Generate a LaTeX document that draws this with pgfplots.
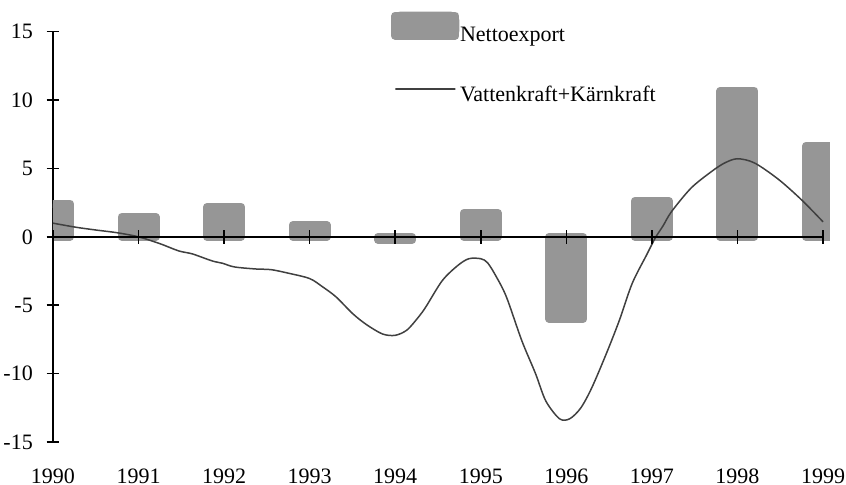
\documentclass[border=0pt]{standalone}
\usepackage{fontspec}
\setmainfont{Liberation Serif}
\usepackage{pgfplots}
\pgfplotsset{compat=1.18}
\definecolor{barcol}{RGB}{150,150,150}
\definecolor{linecol}{RGB}{64,64,64}
\begin{document}
\fontsize{11}{13}\selectfont
\begin{tikzpicture}
\useasboundingbox (-26.5pt,-21.5pt) rectangle (396.5pt,221pt);
\begin{axis}[
 scale only axis, width=388.42pt, height=205.15pt,
 at={(0pt,0pt)}, anchor=south west,
 xmin=1990, xmax=1999.08, ymin=-15, ymax=15,
 axis y line*=left, axis x line*=bottom,
 x axis line style={draw=none},
 y axis line style={line width=0.8pt,-},
 xtick={1990,1991,1992,1993,1994,1995,1996,1997,1998,1999},
 xticklabels={1990,1991,1992,1993,1994,1995,1996,1997,1998,1999},
 ytick={-15,-10,-5,0,5,10,15},
 yticklabels={-15,-10,-5,0,5,10,15},
 xtick style={draw=none},
 ytick style={line width=0.8pt, black},
 tick align=center, major tick length=6.5pt,
 xticklabel style={inner sep=0pt, yshift=-9.8pt, font=\fontsize{11}{13}\selectfont},
 yticklabel style={xshift=-3pt, font=\fontsize{11}{13}\selectfont},
 legend style={draw=none, fill=none, inner sep=0pt,
   at={(axis description cs:0.4351,1.05)}, anchor=north west,
   row sep=20pt, nodes={inner sep=0.3pt}, font=\fontsize{11}{13}\selectfont},
 legend cell align=left,
 clip=true,
]
\addplot[ybar, bar width=17pt, bar shift=0pt, fill=barcol, draw=barcol,
  line width=4pt, line join=round,
  legend image code/.code={\path (0pt,0pt) rectangle (30pt,10pt);
    \fill[barcol,rounded corners=2.5pt,overlay] (0pt,0pt) rectangle (30pt,10pt);}]
coordinates {(1990,2.43) (1991,1.46) (1992,2.19) (1993,0.85) (1994,-0.22)
 (1995,1.75) (1996,-6.0) (1997,2.63) (1998,10.68) (1999,6.66)};
\addlegendentry{Nettoexport}
\addplot[smooth, linecol, line width=0.75pt,
  legend image code/.code={\path (0pt,3pt) rectangle (30pt,3pt);
    \draw[linecol, line width=0.75pt, overlay] (1.75pt,3pt) -- (28.25pt,3pt);}]
coordinates {
(1990.0,1.0) (1990.27,0.7) (1990.5,0.5) (1990.75,0.3) (1991.0,0.0)
(1991.25,-0.5) (1991.47,-1.03) (1991.63,-1.25) (1991.86,-1.76) (1991.98,-1.93)
(1992.12,-2.2) (1992.37,-2.35) (1992.55,-2.4) (1992.76,-2.67) (1993.0,-3.05)
(1993.15,-3.65) (1993.31,-4.4) (1993.5,-5.6) (1993.66,-6.4) (1993.85,-7.1)
(1994.0,-7.2) (1994.14,-6.8) (1994.28,-5.8) (1994.36,-5.1) (1994.55,-3.2)
(1994.73,-2.1) (1994.86,-1.6) (1995.0,-1.6) (1995.08,-1.9) (1995.18,-2.9)
(1995.3,-4.4) (1995.48,-7.6) (1995.64,-10.0) (1995.76,-12.0) (1995.92,-13.3)
(1996.04,-13.3) (1996.17,-12.5) (1996.3,-11.0) (1996.47,-8.5) (1996.62,-6.1)
(1996.77,-3.4) (1996.94,-1.3) (1997.04,-0.07) (1997.13,0.8) (1997.23,1.85)
(1997.46,3.58) (1997.7,4.79) (1997.85,5.4) (1998.0,5.71) (1998.2,5.4)
(1998.48,4.2) (1998.75,2.7) (1999.0,1.1)};
\addlegendentry{Vattenkraft+Kärnkraft}
\end{axis}
\begin{axis}[
 scale only axis, width=385pt, height=205.15pt,
 at={(0pt,0pt)}, anchor=south west,
 xmin=1990, xmax=1999, ymin=-15, ymax=15,
 axis x line=middle, axis y line=none,
 x axis line style={line width=0.8pt,-},
 xtick={1990,1991,1992,1993,1994,1995,1996,1997,1998,1999},
 xticklabels={},
 xtick style={line width=0.8pt, black},
 tick align=center, major tick length=7pt,
 hide obscured x ticks=false,
]
\addplot[draw=none, forget plot] coordinates {(1990,0) (1999,0)};
\end{axis}
\end{tikzpicture}
\end{document}
